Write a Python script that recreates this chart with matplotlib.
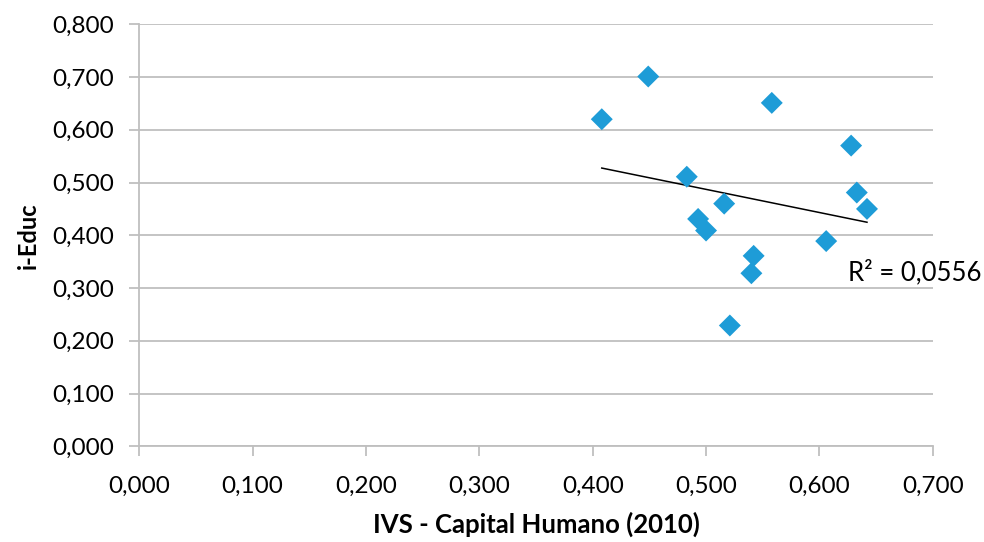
import numpy as np
import matplotlib
matplotlib.use("Agg")
import matplotlib.pyplot as plt
from matplotlib.ticker import FuncFormatter, MultipleLocator

plt.rcParams['font.family'] = ['Lato', 'DejaVu Sans']

ivs_capital_humano = [0.408, 0.449, 0.558, 0.628, 0.483, 0.633, 0.642,
                      0.493, 0.516, 0.500, 0.606, 0.542, 0.540, 0.521]
i_educ = [0.620, 0.701, 0.651, 0.570, 0.511, 0.481, 0.450,
          0.431, 0.460, 0.409, 0.389, 0.361, 0.328, 0.229]
r2_label = "R² = 0,0556"
x_label = "IVS - Capital Humano (2010)"
y_label = "i-Educ"

fig = plt.figure(figsize=(9.84, 5.42), dpi=100)
ax = fig.add_axes([0.1416, 0.1766, 0.8063, 0.7786])

grid_c = '#BFBFBF'
ax.set_xlim(0, 0.7)
ax.set_ylim(0, 0.8)
ax.xaxis.set_major_locator(MultipleLocator(0.1))
ax.yaxis.set_major_locator(MultipleLocator(0.1))
fmt = FuncFormatter(lambda v, p: f"{v:.3f}".replace('.', ','))
ax.xaxis.set_major_formatter(fmt)
ax.yaxis.set_major_formatter(fmt)
ax.grid(axis='y', color=grid_c, linewidth=1.3)
ax.set_axisbelow(True)
for s in ['top', 'right']:
    ax.spines[s].set_visible(False)
for s in ['left', 'bottom']:
    ax.spines[s].set_color(grid_c)
    ax.spines[s].set_linewidth(1.3)
ax.tick_params(axis='both', colors=grid_c, labelcolor='black', labelsize=17.5,
               length=7, width=1.3, direction='out')
ax.tick_params(axis='y', pad=11)
ax.tick_params(axis='x', pad=14)

ax.scatter(ivs_capital_humano, i_educ, marker='D', s=125, color='#1E9CD7',
           edgecolors='none', zorder=3)

x = np.array(ivs_capital_humano)
y = np.array(i_educ)
m, b = np.polyfit(x, y, 1)
xs = np.array([x.min(), x.max()])
ax.plot(xs, m * xs + b, color='black', linewidth=1.1, zorder=2)

ax.text(0.6253, 0.329, r2_label, fontsize=18.5, ha='left', va='center')

ax.set_xlabel(x_label, fontsize=18.5, fontweight='bold', labelpad=11)
ax.set_ylabel(y_label, fontsize=17, fontweight='bold', labelpad=9)

fig.savefig('out.png', dpi=100)
